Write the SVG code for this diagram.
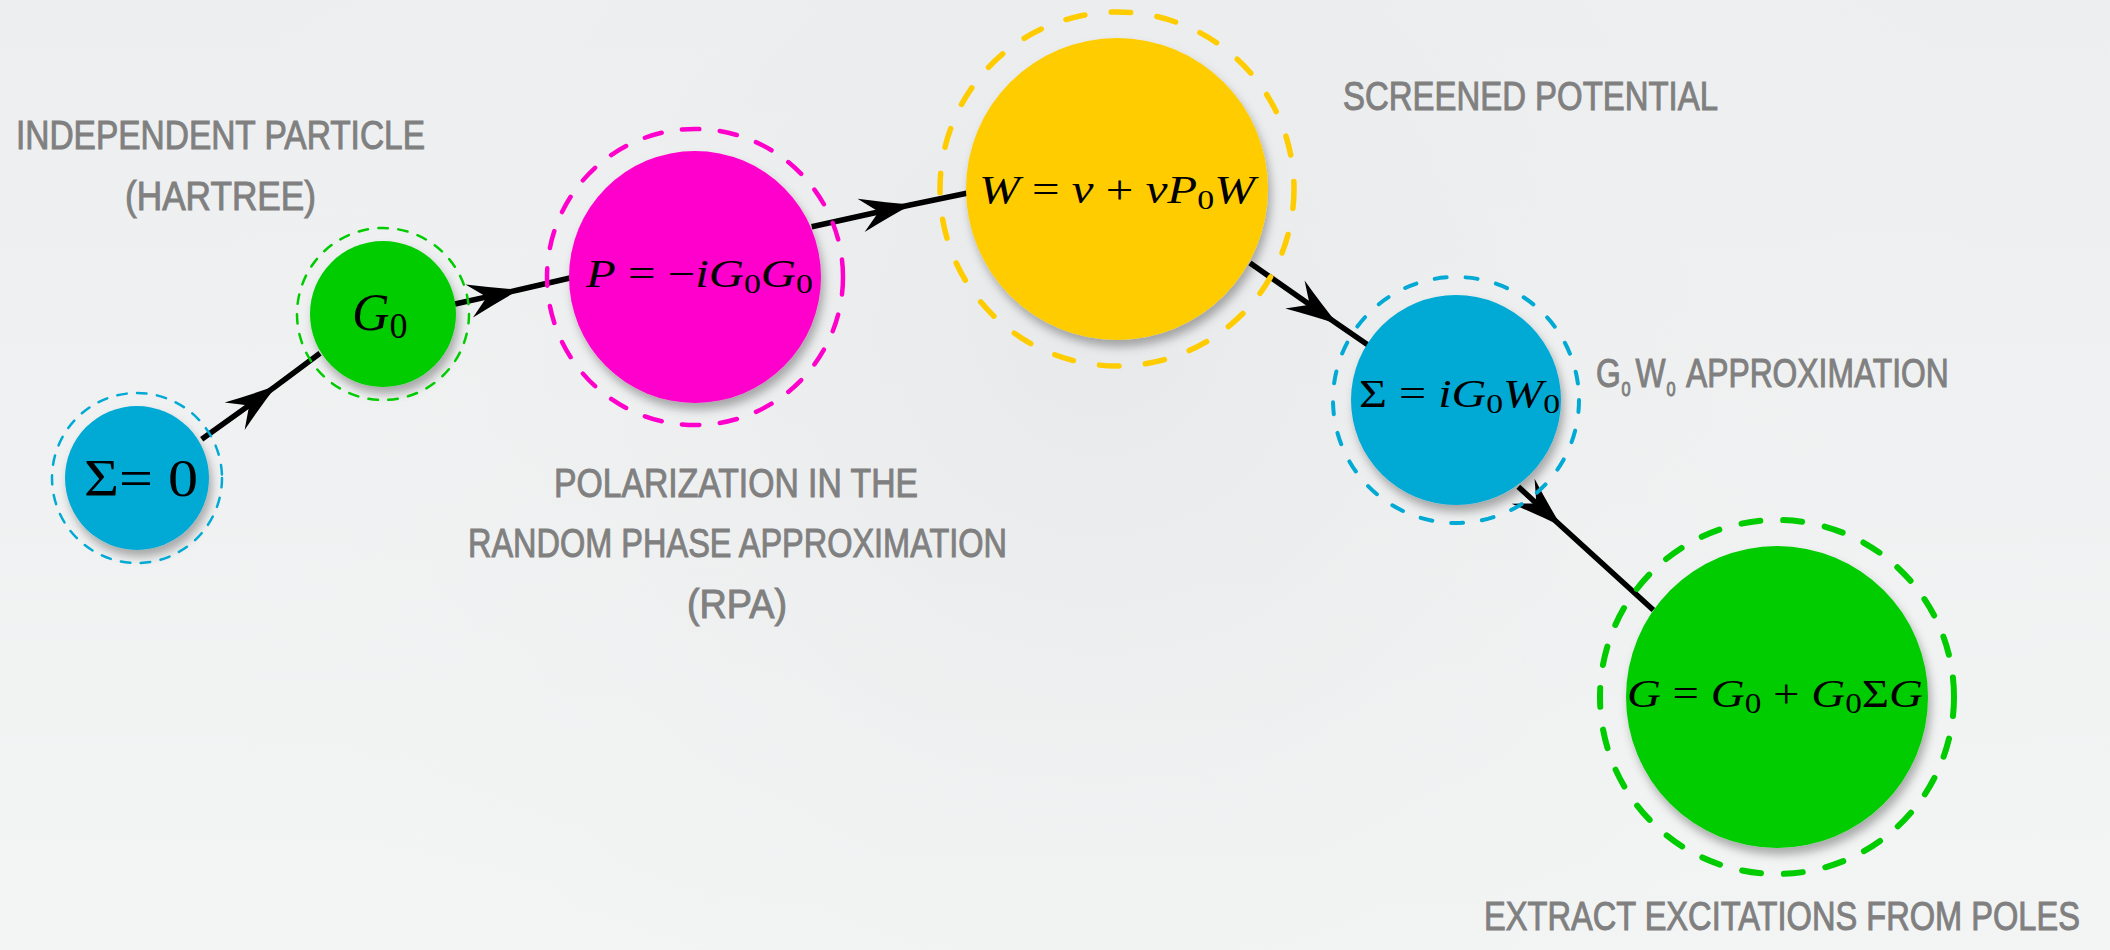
<svg xmlns="http://www.w3.org/2000/svg" width="2110" height="950" viewBox="0 0 2110 950">
<defs>
<style>
.lbl{font-family:"Liberation Sans","DejaVu Sans",sans-serif;font-size:41px;fill:#808080;stroke:#808080;stroke-width:1;}
.math{font-family:"Liberation Serif","DejaVu Serif",serif;fill:#000;}
.it{font-style:italic;}
.conn{fill:none;stroke:#000;stroke-width:5.5;marker-mid:url(#ah);}
.ring{fill:none;stroke-linecap:round;}
</style>
<marker id="ah" markerUnits="userSpaceOnUse" orient="auto" refX="0" refY="0" markerWidth="70" markerHeight="50" viewBox="-60 -25 70 50" overflow="visible">
<path d="M2,0 Q-22,-7 -50,-17 L-32,0 L-50,17 Q-22,7 2,0 Z" fill="#000"/>
</marker>
<filter id="sh" x="-20%" y="-20%" width="150%" height="150%">
<feDropShadow dx="3" dy="7" stdDeviation="5" flood-color="#000" flood-opacity="0.3"/>
</filter>
<radialGradient id="bg1" cx="1100" cy="330" r="900" gradientUnits="userSpaceOnUse">
<stop offset="0" stop-color="#e8e9ea"/>
<stop offset="1" stop-color="#f1f2f2" stop-opacity="0"/>
</radialGradient>
<linearGradient id="bg0" x1="0" y1="0" x2="0" y2="1">
<stop offset="0" stop-color="#edeeef"/>
<stop offset="1" stop-color="#f3f4f4"/>
</linearGradient>
</defs>
<rect width="2110" height="950" fill="url(#bg0)"/>
<rect width="2110" height="950" fill="url(#bg1)"/>

<g id="connectors">
<path class="conn" d="M201.7,439.3 L275,386.7 L320,353.3"/>
<path class="conn" d="M455,304 L518,290 L570,278"/>
<path class="conn" d="M811.7,226.7 L910,205 L966.7,193.3"/>
<path class="conn" d="M1250,263 L1336,323 L1368,345"/>
<path class="conn" d="M1518.3,486.7 L1560,525 L1653.3,610"/>
</g>

<g id="sigma0">
<circle cx="137" cy="478" r="72" fill="#00AAD4" filter="url(#sh)"/>
<circle class="ring" cx="137" cy="478" r="85" stroke="#00AAD4" stroke-width="2.5" stroke-dasharray="9.5 10.5"/>
<text class="math" x="84" y="496" font-size="52" textLength="114" lengthAdjust="spacingAndGlyphs">Σ= 0</text>
</g>

<g id="g0">
<circle cx="383" cy="314" r="73" fill="#00CC00" filter="url(#sh)"/>
<circle class="ring" cx="383" cy="314" r="86" stroke="#00CC00" stroke-width="2.5" stroke-dasharray="9.5 10.5"/>
<text class="math" x="352" y="330" font-size="52"><tspan class="it">G</tspan><tspan font-size="36" dy="8">0</tspan></text>
</g>

<g id="polarization">
<circle cx="695" cy="277" r="126" fill="#FF00CC" filter="url(#sh)"/>
<circle class="ring" cx="695" cy="277" r="148" stroke="#FF00CC" stroke-width="4.5" stroke-dasharray="17.5 20.5"/>
<text class="math" x="586" y="287" font-size="39" textLength="227" lengthAdjust="spacingAndGlyphs"><tspan class="it">P</tspan> = −<tspan class="it">iG</tspan><tspan font-size="27" dy="6">0</tspan><tspan class="it" dy="-6">G</tspan><tspan font-size="27" dy="6">0</tspan></text>
</g>

<g id="screened">
<circle cx="1117" cy="189" r="151" fill="#FFCC00" filter="url(#sh)"/>
<circle class="ring" cx="1117" cy="189" r="177" stroke="#FFCC00" stroke-width="5.5" stroke-dasharray="19.5 26.5"/>
<text class="math" x="979" y="203" font-size="39" textLength="276" lengthAdjust="spacingAndGlyphs"><tspan class="it">W</tspan> = <tspan class="it">v</tspan> + <tspan class="it">vP</tspan><tspan font-size="27" dy="6">0</tspan><tspan class="it" dy="-6">W</tspan></text>
</g>

<g id="selfenergy">
<circle cx="1456" cy="400" r="105" fill="#00AAD4" filter="url(#sh)"/>
<circle class="ring" cx="1456" cy="400" r="123" stroke="#00AAD4" stroke-width="4" stroke-dasharray="12 19"/>
<text class="math" x="1359" y="407" font-size="40" textLength="201" lengthAdjust="spacingAndGlyphs">Σ = <tspan class="it">iG</tspan><tspan font-size="28" dy="6">0</tspan><tspan class="it" dy="-6">W</tspan><tspan font-size="28" dy="6">0</tspan></text>
</g>

<g id="greens">
<circle cx="1777" cy="697" r="151" fill="#00CC00" filter="url(#sh)"/>
<circle class="ring" cx="1777" cy="697" r="177" stroke="#00CC00" stroke-width="6" stroke-dasharray="19 23"/>
<text class="math" x="1627" y="707" font-size="41" textLength="296" lengthAdjust="spacingAndGlyphs"><tspan class="it">G</tspan> = <tspan class="it">G</tspan><tspan font-size="29" dy="6">0</tspan><tspan dy="-6"> + </tspan><tspan class="it">G</tspan><tspan font-size="29" dy="6">0</tspan><tspan dy="-6">Σ</tspan><tspan class="it">G</tspan></text>
</g>

<g id="labels">
<text class="lbl" x="16" y="149" textLength="409" lengthAdjust="spacingAndGlyphs">INDEPENDENT PARTICLE</text>
<text class="lbl" x="125" y="210" textLength="191" lengthAdjust="spacingAndGlyphs">(HARTREE)</text>
<text class="lbl" x="1343" y="110" textLength="375" lengthAdjust="spacingAndGlyphs">SCREENED POTENTIAL</text>
<text class="lbl" transform="translate(1596 387) scale(0.776 1)"><tspan x="0">G</tspan><tspan x="33" dy="9" font-size="21">0</tspan><tspan x="51" dy="-9">W</tspan><tspan x="91" dy="9" font-size="21">0</tspan><tspan x="116" dy="-9">APPROXIMATION</tspan></text>
<text class="lbl" x="554" y="497" textLength="364" lengthAdjust="spacingAndGlyphs">POLARIZATION IN THE</text>
<text class="lbl" x="468" y="557" textLength="539" lengthAdjust="spacingAndGlyphs">RANDOM PHASE APPROXIMATION</text>
<text class="lbl" x="687" y="618" textLength="100" lengthAdjust="spacingAndGlyphs">(RPA)</text>
<text class="lbl" x="1484" y="930" font-size="39" textLength="596" lengthAdjust="spacingAndGlyphs">EXTRACT EXCITATIONS FROM POLES</text>
</g>
</svg>
